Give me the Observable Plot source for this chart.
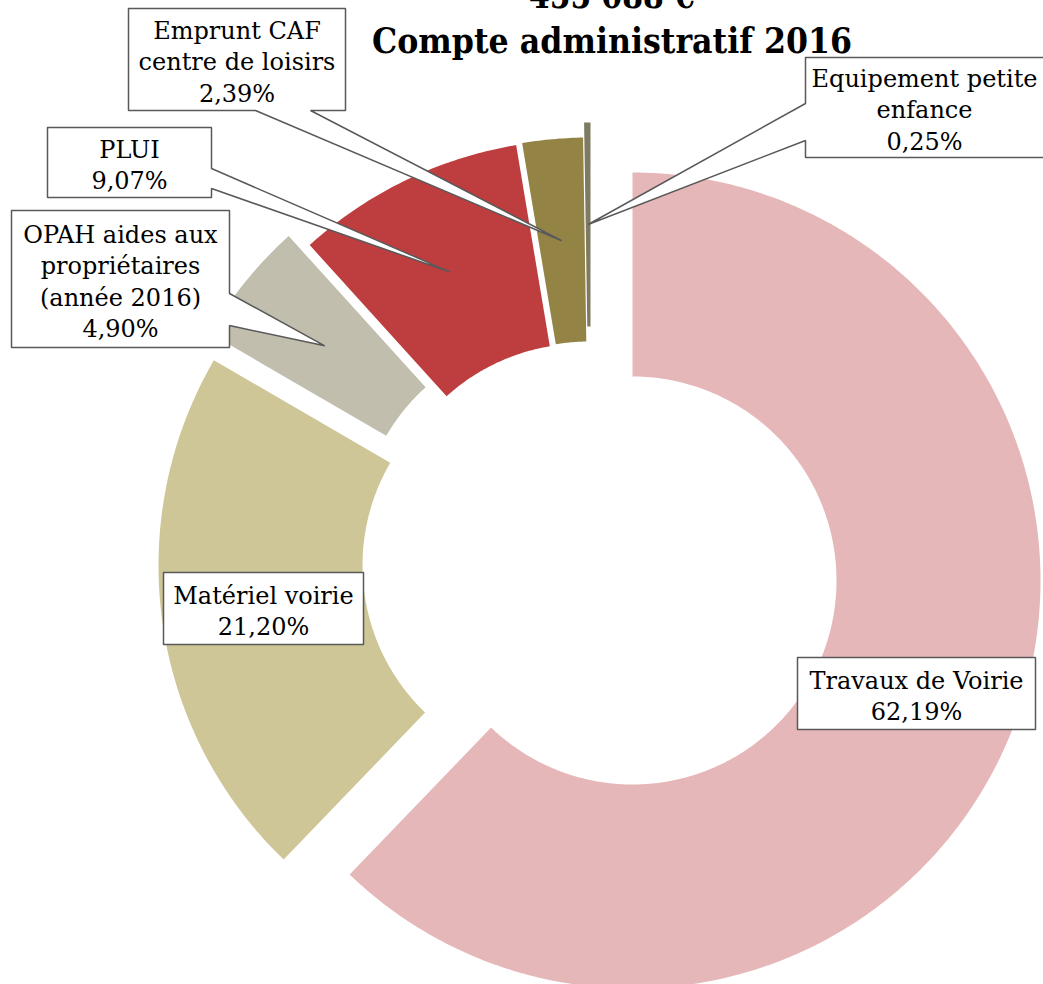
<!DOCTYPE html>
<html><head><meta charset="utf-8">
<script src="https://cdn.jsdelivr.net/npm/d3@7"></script>
<script src="https://cdn.jsdelivr.net/npm/@observablehq/plot@0.6"></script>
<style>
body{margin:0;background:#fff;}
#wrap{position:relative;width:1043px;height:984px;overflow:hidden;}
#wrap svg{display:block;}
#title{position:absolute;left:0;top:0;}
</style></head><body><div id="wrap"></div>
<script>
// ---- data ----
const categories = ["Travaux de Voirie", "Matériel voirie", "OPAH aides aux\npropriétaires\n(année 2016)", "PLUI", "Emprunt CAF\ncentre de loisirs", "Equipement petite\nenfance"];
const shares = [62.19, 21.20, 4.90, 9.07, 2.39, 0.25];
const colors = ["#E6B7B8", "#CEC696", "#C1BEAE", "#BE3D3F", "#938446", "#7D7B62"];
const titleLines = ["455 088 €", "Compte administratif 2016"];

// ---- layout / style ----
const W = 1043, H = 984, CX = 632, CY = 580;
const R_OUT = 408, R_IN = 204, R_TIP = 306;
const explode = [[0,0],[-66,-15],[-70,-42],[-49,-33],[-43,-35],[-42,-50]];
const boxes = [
  {x0:165, y0:77, x1:403, y1:149},
  {x0:-469, y0:-8, x1:-269, y1:64},
  {x0:-621, y0:-370, x1:-403, y1:-233, side:"right", p0:-287, p1:-255},
  {x0:-585, y0:-453, x1:-421, y1:-383, side:"right", p0:-412, p1:-392},
  {x0:-504, y0:-572, x1:-287, y1:-470, side:"bottom", p0:-377, p1:-322},
  {x0:173, y0:-523, x1:420, y1:-423, side:"left", p0:-477, p1:-440}
];

const total = d3.sum(shares);
const rad = a => a * Math.PI / 180;
let acc = 0;
const slices = shares.map((v, i) => {
  const a0 = acc / total * 360; acc += v; const a1 = acc / total * 360;
  return {i, a0, a1, mid: (a0 + a1) / 2, dx: explode[i][0], dy: explode[i][1]};
});
const pt = (s, r, a) => ({x: s.dx + r * Math.sin(rad(a)), y: s.dy - r * Math.cos(rad(a))});
function ring(s) {
  const n = Math.max(2, Math.ceil((s.a1 - s.a0) / 0.5));
  const pts = [];
  for (let k = 0; k <= n; k++) pts.push(pt(s, R_OUT, s.a0 + (s.a1 - s.a0) * k / n));
  for (let k = n; k >= 0; k--) pts.push(pt(s, R_IN, s.a0 + (s.a1 - s.a0) * k / n));
  pts.push(pts[0]);
  return pts;
}
function callout(b, tip) {
  const p = [{x:b.x0,y:b.y0},{x:b.x1,y:b.y0}];
  if (b.side === "right") p.push({x:b.x1,y:b.p0}, tip, {x:b.x1,y:b.p1});
  p.push({x:b.x1,y:b.y1});
  if (b.side === "bottom") p.push({x:b.p1,y:b.y1}, tip, {x:b.p0,y:b.y1});
  p.push({x:b.x0,y:b.y1});
  if (b.side === "left") p.push({x:b.x0,y:b.p1}, tip, {x:b.x0,y:b.p0});
  p.push({x:b.x0,y:b.y0});
  return p;
}
const fmt = v => v.toFixed(2).replace(".", ",") + "%";

const marks = [];
slices.forEach(s => marks.push(Plot.line(ring(s), {x:"x", y:"y", fill: colors[s.i], stroke: "none"})));
slices.forEach(s => {
  const b = boxes[s.i];
  const tip = pt(s, R_TIP, s.mid);
  marks.push(Plot.line(callout(b, tip), {x:"x", y:"y", fill:"white", stroke:"#595959", strokeWidth:1.5, strokeLinejoin:"miter"}));
});
const labels = slices.map(s => ({x:(boxes[s.i].x0 + Math.min(boxes[s.i].x1, W - CX)) / 2, y:(boxes[s.i].y0 + boxes[s.i].y1) / 2 + 1, t: categories[s.i] + "\n" + fmt(shares[s.i])}));
marks.push(Plot.text(labels, {x:"x", y:"y", text:"t", fontFamily:"DejaVu Serif", fontSize:24, lineHeight:1.3, fill:"#000"}));

const chart = Plot.plot({
  width: W, height: H, margin: 0,
  x: {domain:[-CX, W - CX], range:[0, W], axis: null},
  y: {domain:[-CY, H - CY], range:[0, H], axis: null},
  style: {background: "white"},
  marks
});
const wrap = document.getElementById("wrap");
wrap.appendChild(chart);

// title overlay
const t = d3.select(wrap).append("svg").attr("id","title").attr("width", W).attr("height", 70);
t.append("text").attr("x", 612).attr("y", 8).attr("text-anchor","middle")
  .attr("font-family","DejaVu Serif").attr("font-weight","bold").attr("font-size",36)
  .attr("textLength",166).attr("lengthAdjust","spacingAndGlyphs").text(titleLines[0]);
t.append("text").attr("x", 612).attr("y", 53).attr("text-anchor","middle")
  .attr("font-family","DejaVu Serif").attr("font-weight","bold").attr("font-size",36)
  .attr("textLength",480).attr("lengthAdjust","spacingAndGlyphs").text(titleLines[1]);
</script></body></html>
